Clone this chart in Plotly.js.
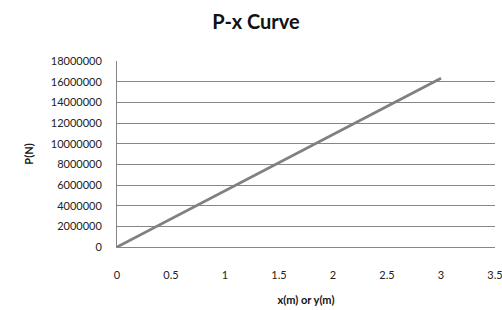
<!DOCTYPE html>
<html><head><meta charset="utf-8">
<script src="https://cdn.plot.ly/plotly-3.0.1.min.js"></script>
<style>body{margin:0;padding:0;background:#fff}#c{width:502px;height:310px}</style>
</head><body><div id="c"></div>
<script>
const xVals = [0, 0.5, 1, 1.5, 2, 2.5, 3];
const pVals = [0, 2720000, 5440000, 8160000, 10880000, 13600000, 16320000];
const yTicks = [0, 2000000, 4000000, 6000000, 8000000, 10000000, 12000000, 14000000, 16000000, 18000000];
const gridTicks = [2000000, 4000000, 6000000, 8000000, 10000000, 12000000, 14000000, 16000000];
const titleText = 'P-x Curve';
const xTitle = 'x(m) or y(m)';
const yTitle = 'P(N)';
const tickFont = {family: 'Lato, "Liberation Sans", sans-serif', size: 11, color: '#222'};
Plotly.newPlot('c', [{
  x: xVals, y: pVals, type: 'scatter', mode: 'lines',
  line: {color: '#808080', width: 2.8}
}, {
  x: xVals, y: pVals, yaxis: 'y2', type: 'scatter', mode: 'lines',
  line: {color: 'rgba(0,0,0,0)', width: 0}, hoverinfo: 'skip'
}], {
  width: 502, height: 310,
  margin: {l: 117, r: 7, t: 61, b: 63},
  paper_bgcolor: '#fff', plot_bgcolor: '#fff',
  showlegend: false,
  title: {text: '<b>' + titleText + '</b>', x: 0.51, y: 0.93, xanchor: 'center', yanchor: 'middle',
    font: {family: 'Lato, "Open Sans", sans-serif', size: 20, color: '#111'}},
  xaxis: {range: [0, 3.5], dtick: 0.5, tick0: 0, showgrid: false, zeroline: false,
    showline: true, linecolor: '#868686', linewidth: 1, ticks: '',
    ticklabelstandoff: 18, ticklabeloverflow: 'allow', tickfont: tickFont,
    title: {text: '<b>' + xTitle + '</b>', standoff: 16,
      font: {family: 'Lato, "Open Sans", sans-serif', size: 11, color: '#111'}}},
  yaxis: {range: [0, 18000000], tickvals: yTicks, showgrid: false, zeroline: false,
    showline: true, linecolor: '#868686', linewidth: 1, ticks: '',
    tickformat: 'd', ticklabelstandoff: 12, tickfont: tickFont,
    title: {text: '<b>' + yTitle + '</b>', standoff: 14,
      font: {family: 'Lato, "Open Sans", sans-serif', size: 11, color: '#111'}}},
  yaxis2: {range: [0, 18000000], overlaying: 'y', side: 'left', tickvals: gridTicks,
    showgrid: true, gridcolor: '#868686', gridwidth: 1, zeroline: false,
    showline: false, ticks: '', showticklabels: false}
}, {displayModeBar: false, staticPlot: true});
</script></body></html>
